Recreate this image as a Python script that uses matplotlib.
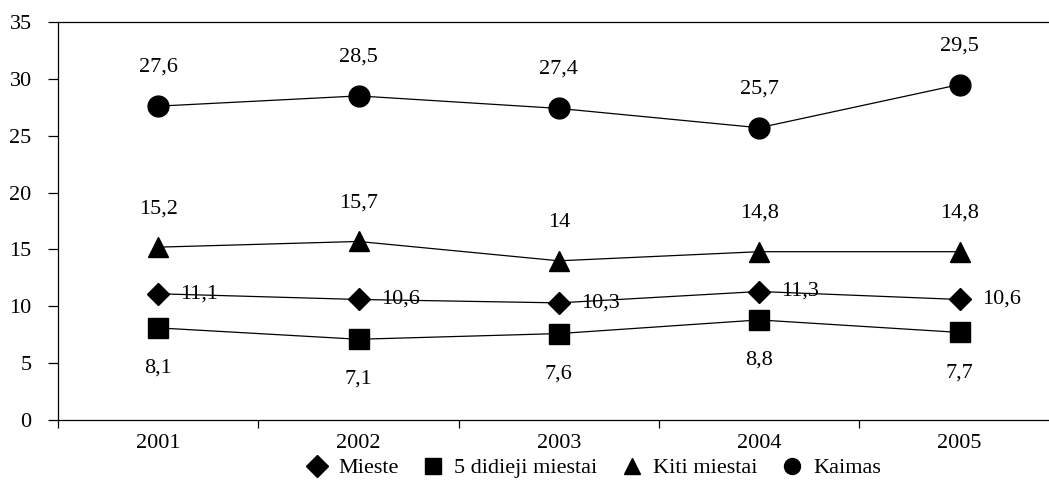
import matplotlib
matplotlib.use("Agg")
import matplotlib.pyplot as plt

plt.rcParams['font.family'] = ['Liberation Serif', 'DejaVu Serif']

years = ['2001', '2002', '2003', '2004', '2005']
mieste = [11.1, 10.6, 10.3, 11.3, 10.6]
didieji = [8.1, 7.1, 7.6, 8.8, 7.7]
kiti = [15.2, 15.7, 14, 14.8, 14.8]
kaimas = [27.6, 28.5, 27.4, 25.7, 29.5]
series_names = ['Mieste', '5 didieji miestai', 'Kiti miestai', 'Kaimas']


def fmt(v):
    return ('%g' % v).replace('.', ',')


fig = plt.figure(figsize=(10.49, 4.82), dpi=100)
ax = fig.add_axes([58 / 1049, 1 - 420 / 482, (1049 - 58) / 1049, (420 - 22) / 482])

x = list(range(len(years)))
lw = 0.9
ax.plot(x, mieste, color='black', lw=lw, marker='D', ms=11, label=series_names[0])
ax.plot(x, didieji, color='black', lw=lw, marker='s', ms=14, label=series_names[1])
ax.plot(x, kiti, color='black', lw=lw, marker='^', ms=15, label=series_names[2])
ax.plot(x, kaimas, color='black', lw=lw, marker='o', ms=15, label=series_names[3])

fs = 16
for i in x:
    ax.annotate(fmt(mieste[i]), (i, mieste[i]), xytext=(16, 0), textcoords='offset points',
                ha='left', va='center', fontsize=fs)
    ax.annotate(fmt(didieji[i]), (i, didieji[i]), xytext=(0, -29), textcoords='offset points',
                ha='center', va='center', fontsize=fs)
    ax.annotate(fmt(kiti[i]), (i, kiti[i]), xytext=(0, 27.5), textcoords='offset points',
                ha='center', va='center', fontsize=fs)
    ax.annotate(fmt(kaimas[i]), (i, kaimas[i]), xytext=(0, 28), textcoords='offset points',
                ha='center', va='center', fontsize=fs)

ax.set_ylim(0, 35)
ax.set_yticks(range(0, 36, 5))
ax.set_xlim(-0.5, (1049 - 157) / 200.6)
ax.set_xticks(x)
ax.set_xticklabels(years)
ax.set_xticks([i - 0.5 for i in range(len(years))], minor=True)
ax.tick_params(axis='x', which='major', length=0, pad=10, labelsize=fs)
ax.tick_params(axis='x', which='minor', length=6, direction='out', width=0.9)
ax.tick_params(axis='y', length=7, width=0.9, labelsize=fs, pad=12)
ax.spines['right'].set_visible(False)
for s in ['left', 'top', 'bottom']:
    ax.spines[s].set_linewidth(0.9)

handles, labels = ax.get_legend_handles_labels()
leg = fig.legend(handles, labels, loc='center', bbox_to_anchor=(594 / 1049, 1 - 468 / 482),
                 ncol=4, frameon=False, fontsize=fs, handlelength=0.9, handletextpad=0.5,
                 columnspacing=1.1, borderaxespad=0)
for h in leg.legend_handles:
    h.set_linestyle('none')
    h.set_markersize(11.5)

fig.savefig('out.png', dpi=100)
